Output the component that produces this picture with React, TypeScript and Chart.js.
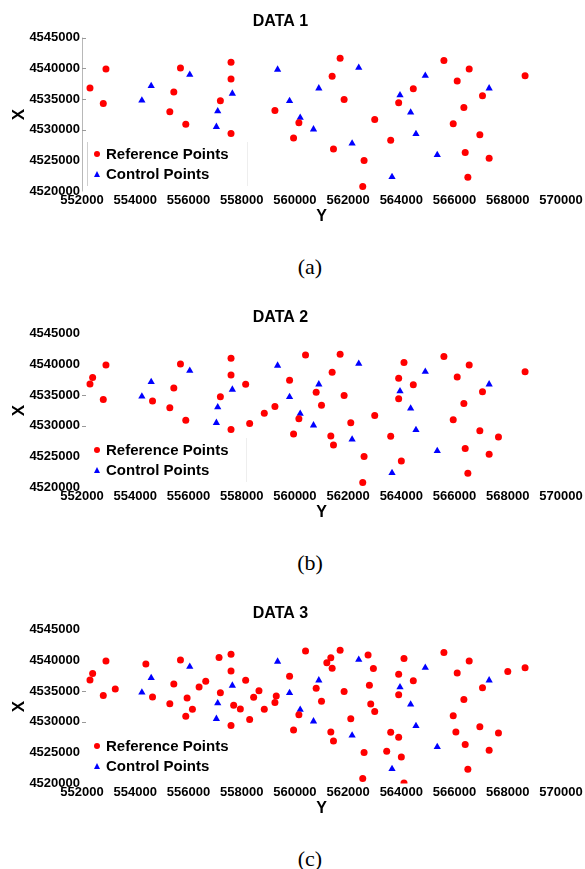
import React, { useEffect, useRef } from "react";
import { Chart, registerables } from "chart.js";

Chart.register(...registerables);

// ---- axis ranges / ticks ----
const EAST_MIN = 552000;
const EAST_MAX = 570000;
const EAST_STEP = 2000;
const NORTH_MIN = 4520000;
const NORTH_MAX = 4545000;
const NORTH_STEP = 5000;

const panelTitles = ["DATA 1", "DATA 2", "DATA 3"];
const panelCaptions = ["(a)", "(b)", "(c)"];
const legendLabels = ["Reference Points", "Control Points"];

// ---- control points (blue triangles), same in every panel ----
const ctrlE = [554250, 554600, 556050, 557100, 557650, 557050, 559350, 559800, 560200, 560900, 560700, 562400, 562150, 563950, 564350, 564550, 563650, 564900, 565350, 567300];
const ctrlN = [4534800, 4537150, 4538950, 4533050, 4535900, 4530500, 4539800, 4534700, 4532000, 4536750, 4530100, 4540100, 4527800, 4535650, 4532850, 4529350, 4522350, 4538800, 4525950, 4536750];

// ---- reference points in DATA 1 ----
const refE1 = [552300, 552900, 552800, 555700, 555450, 555300, 555900, 557600, 557600, 557200, 557600, 559250, 559950, 560150, 561700, 561400, 561850, 563000, 561450, 562600, 562550, 563600, 563900, 564450, 565600, 566550, 566100, 567050, 566350, 565950, 566950, 566400, 567300, 566500, 568650];
const refN1 = [4536800, 4539900, 4534300, 4540050, 4536150, 4532950, 4530900, 4541000, 4538250, 4534750, 4529400, 4533150, 4528700, 4531150, 4541650, 4538700, 4534950, 4531700, 4526900, 4525050, 4520800, 4528300, 4534400, 4536700, 4541250, 4539900, 4537950, 4535550, 4533650, 4531000, 4529200, 4526350, 4525400, 4522300, 4538800];

// ---- reference points added in DATA 2 ----
const refE2 = [552400, 554650, 558150, 558300, 558850, 559800, 560400, 560800, 561000, 562100, 561350, 564000, 564100, 563900, 567650];
const refN2 = [4537850, 4534050, 4536750, 4530400, 4532050, 4537400, 4541500, 4535450, 4533350, 4530500, 4528350, 4524300, 4540300, 4537750, 4528200];

// ---- reference points added in DATA 3 ----
const refE3 = [553250, 554400, 555950, 556150, 556400, 556650, 557150, 557700, 557950, 558450, 558650, 559300, 561200, 561350, 562750, 562950, 562800, 562850, 563900, 563450, 564100, 566050, 568000];
const refN3 = [4535350, 4539400, 4533900, 4532050, 4535650, 4536600, 4540450, 4532700, 4532100, 4534000, 4535050, 4534200, 4539600, 4540400, 4540850, 4538650, 4535950, 4532900, 4527500, 4525250, 4520100, 4528350, 4538200];

const toPts = (e: number[], n: number[]) => e.map((v, i) => ({ x: v, y: n[i] }));

const FONT = "'Liberation Sans', Arial, Helvetica, sans-serif";
const PANEL_TOPS = [0, 296, 592];
const CANVAS_H = 228;

const axisDecor = {
  id: "axisDecor",
  afterDraw(chart: any, _args: any, opts: any) {
    const { ctx, chartArea } = chart;
    const y = chart.scales.y;
    ctx.save();
    ctx.lineWidth = 1;
    if (opts.axisLine) {
      ctx.strokeStyle = "#b8b8b8";
      ctx.beginPath();
      ctx.moveTo(chartArea.left + 0.5, chartArea.top);
      ctx.lineTo(chartArea.left + 0.5, chartArea.bottom);
      ctx.stroke();
    }
    ctx.strokeStyle = "#999999";
    for (const v of opts.tickMarks || []) {
      const py = Math.round(y.getPixelForValue(v)) + 0.5;
      ctx.beginPath();
      ctx.moveTo(chartArea.left, py);
      ctx.lineTo(chartArea.left + 4, py);
      ctx.stroke();
    }
    ctx.restore();
  },
};

type PanelProps = {
  index: number;
  refE: number[];
  refN: number[];
  axisLine: boolean;
  tickMarks: number[];
  boxLeft: string;
  boxRight: string;
};

function Panel({ index, refE, refN, axisLine, tickMarks, boxLeft, boxRight }: PanelProps) {
  const ref = useRef<HTMLCanvasElement | null>(null);
  useEffect(() => {
    if (!ref.current) return;
    const chart = new Chart(ref.current, {
      type: "scatter",
      data: {
        datasets: [
          {
            label: legendLabels[0],
            data: toPts(refE, refN),
            backgroundColor: "#ff0000",
            borderColor: "#ff0000",
            pointStyle: "circle",
            pointRadius: 3.5,
            pointBorderWidth: 0,
          },
          {
            label: legendLabels[1],
            data: toPts(ctrlE, ctrlN),
            backgroundColor: "#0000ff",
            borderColor: "#0000ff",
            pointStyle: "triangle",
            pointRadius: 4.2,
            pointBorderWidth: 0,
          },
        ],
      },
      options: {
        animation: false,
        responsive: false,
        layout: { padding: { left: 0, right: 24, top: 0, bottom: 0 } },
        plugins: {
          legend: { display: false },
          tooltip: { enabled: false },
          title: {
            display: true,
            text: panelTitles[index],
            color: "#000",
            font: { family: FONT, size: 16, weight: "bold", lineHeight: 1.2 },
            padding: { top: 12, bottom: 6.3 },
          },
          axisDecor: { axisLine, tickMarks },
        } as any,
        scales: {
          x: {
            type: "linear",
            min: EAST_MIN,
            max: EAST_MAX,
            ticks: {
              stepSize: EAST_STEP,
              autoSkip: false,
              maxRotation: 0,
              color: "#000",
              padding: 1,
              font: { family: FONT, size: 13, weight: "bold" },
              callback: (v: any) => String(v),
            },
            grid: { display: false, drawTicks: false },
            border: { display: false },
            title: {
              display: true,
              text: "Y",
              color: "#000",
              font: { family: FONT, size: 16, weight: "bold", lineHeight: 1.2 },
              padding: { top: 0, bottom: 1.5 },
            },
            afterFit: (s: any) => {
              s.height = 36.5;
            },
          },
          y: {
            type: "linear",
            min: NORTH_MIN,
            max: NORTH_MAX,
            ticks: {
              stepSize: NORTH_STEP,
              autoSkip: false,
              color: "#000",
              padding: 2,
              font: { family: FONT, size: 13, weight: "bold" },
              callback: (v: any) => String(v),
            },
            grid: { display: false, drawTicks: false },
            border: { display: false },
            title: {
              display: true,
              text: "X",
              color: "#000",
              font: { family: FONT, size: 17, weight: "bold", lineHeight: 1.2 },
              padding: { top: 9, bottom: 0 },
            },
            afterFit: (s: any) => {
              s.width = 82;
            },
          },
        },
      } as any,
      plugins: [axisDecor as any],
    });
    return () => chart.destroy();
  }, []);

  const top = PANEL_TOPS[index];
  const legendText: React.CSSProperties = {
    position: "absolute",
    left: 106,
    fontFamily: FONT,
    fontWeight: "bold",
    fontSize: 15,
    lineHeight: "18px",
    color: "#000",
    whiteSpace: "nowrap",
  };
  return (
    <div style={{ position: "absolute", left: 0, top, width: 585, height: 296 }}>
      <canvas ref={ref} width={585} height={CANVAS_H} style={{ display: "block", position: "absolute", left: 0, top: 0 }} />
      <div
        style={{
          position: "absolute",
          left: 87,
          top: 142,
          width: 159,
          height: 44,
          borderLeft: boxLeft,
          borderRight: boxRight,
        }}
      />
      <div
        style={{
          position: "absolute",
          left: 94,
          top: 151,
          width: 6,
          height: 6,
          borderRadius: "50%",
          background: "#ff0000",
        }}
      />
      <div style={{ ...legendText, top: 145 }}>{legendLabels[0]}</div>
      <div
        style={{
          position: "absolute",
          left: 94,
          top: 171,
          width: 0,
          height: 0,
          borderLeft: "3.5px solid transparent",
          borderRight: "3.5px solid transparent",
          borderBottom: "6px solid #0000ff",
        }}
      />
      <div style={{ ...legendText, top: 165 }}>{legendLabels[1]}</div>
      <div
        style={{
          position: "absolute",
          left: 260,
          width: 100,
          top: 256,
          textAlign: "center",
          fontFamily: "'Liberation Serif', 'Times New Roman', serif",
          fontSize: 22,
          lineHeight: "22px",
          color: "#000",
        }}
      >
        {panelCaptions[index]}
      </div>
    </div>
  );
}

export default function App() {
  const refE_b = [...refE1, ...refE2];
  const refN_b = [...refN1, ...refN2];
  const refE_c = [...refE_b, ...refE3];
  const refN_c = [...refN_b, ...refN3];
  return (
    <div style={{ position: "fixed", left: 0, top: 0, width: 585, height: 869, background: "#fff", overflow: "hidden" }}>
      <Panel index={0} refE={refE1} refN={refN1} axisLine={true} tickMarks={[4545000, 4540000, 4535000, 4530000]} boxLeft="1px solid #cfcfcf" boxRight="1px solid #eeeeee" />
      <Panel index={1} refE={refE_b} refN={refN_b} axisLine={false} tickMarks={[4535000, 4530000]} boxLeft="none" boxRight="1px solid #eeeeee" />
      <Panel index={2} refE={refE_c} refN={refN_c} axisLine={false} tickMarks={[4535000, 4530000]} boxLeft="none" boxRight="none" />
    </div>
  );
}
